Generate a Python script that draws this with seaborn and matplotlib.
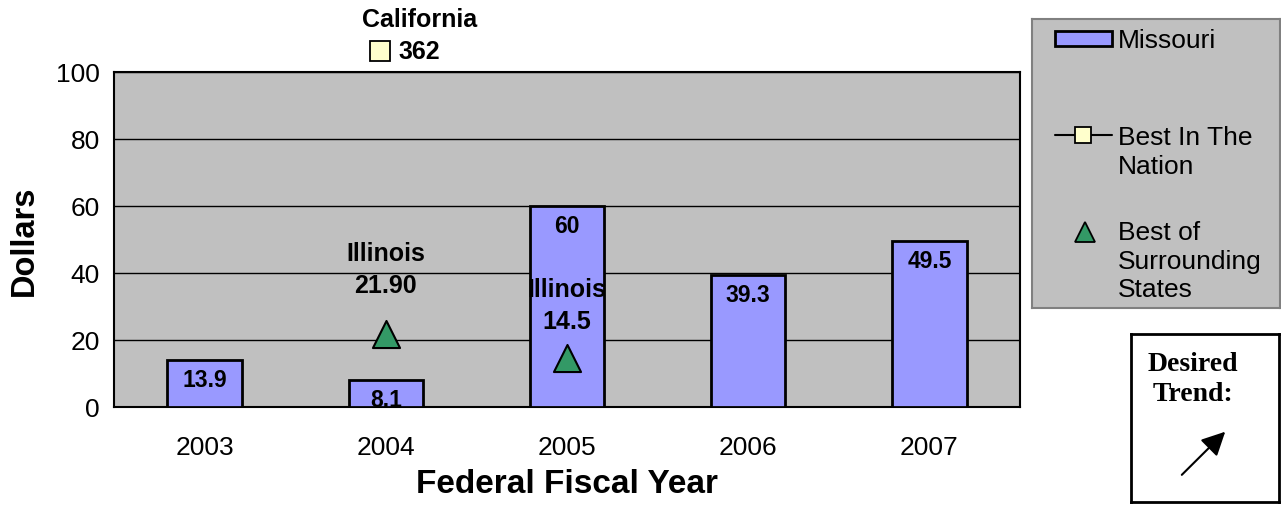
import matplotlib
matplotlib.use("Agg")
import matplotlib.pyplot as plt
import matplotlib.transforms as mtransforms
from matplotlib.patches import Rectangle
import seaborn as sns
import pandas as pd

# Chart data
years = ["2003", "2004", "2005", "2006", "2007"]
missouri = [13.9, 8.1, 60, 39.3, 49.5]
missouri_labels = ["13.9", "8.1", "60", "39.3", "49.5"]

surround_years = ["2004", "2005"]
surround_values = [21.9, 14.5]
surround_labels = ["Illinois\n21.90", "Illinois\n14.5"]

nation_year = "2004"
nation_value = 362
nation_state = "California"

legend_labels = ["Missouri", "Best In The\nNation", "Best of\nSurrounding\nStates"]

sns.set_style("white")
plt.rcParams["font.family"] = ["Liberation Sans", "DejaVu Sans"]
for k in ["text.color", "axes.labelcolor", "xtick.color", "ytick.color"]:
    plt.rcParams[k] = "black"

BAR = "#9999ff"
TRI = "#339966"
SQ = "#ffffcc"
W, H = 1281, 506

fig = plt.figure(figsize=(12.81, 5.06), dpi=100)
ax = fig.add_axes([114 / W, 1 - 408 / H, (1020 - 114) / W, (408 - 73) / H])
ax.set_facecolor("#c0c0c0")

df = pd.DataFrame({"year": years, "value": missouri})
sns.barplot(data=df, x="year", y="value", color=BAR, saturation=1,
            width=0.41, edgecolor="black", linewidth=2, ax=ax, zorder=3)

ax.set_ylim(0, 100)
ax.set_xlim(-0.5, len(years) - 0.5)
ax.set_yticks(range(0, 101, 20))
ax.yaxis.grid(True, color="black", linewidth=1)
ax.set_axisbelow(True)
for s in ax.spines.values():
    s.set_color("black")
    s.set_linewidth(1.5)
ax.tick_params(axis="both", length=0, labelsize=19)
ax.tick_params(axis="x", pad=20)
ax.tick_params(axis="y", pad=10)
ax.set_xlabel("Federal Fiscal Year", fontsize=24, fontweight="bold", labelpad=7)
ax.set_ylabel("Dollars", fontsize=23.5, fontweight="bold", labelpad=12)

# bar value labels inside top of bars
for i, (v, lab) in enumerate(zip(missouri, missouri_labels)):
    ax.annotate(lab, (i, v), xytext=(0, -5.5), textcoords="offset points",
                ha="center", va="top", fontsize=16.5, fontweight="bold", zorder=5)

# best of surrounding states
sx = [years.index(y) for y in surround_years]
sns.scatterplot(x=sx, y=surround_values, marker="^", s=380, color=TRI,
                edgecolor="black", linewidth=1.5, ax=ax, zorder=4, legend=False)
offsets = [26.5, 18]
for x, v, lab, off in zip(sx, surround_values, surround_labels, offsets):
    ax.annotate(lab, (x, v), xytext=(0, off), textcoords="offset points",
                ha="center", va="bottom", fontsize=18, fontweight="bold",
                linespacing=1.42, zorder=5)

# best in the nation (off scale)
trans = mtransforms.blended_transform_factory(ax.transData, ax.transAxes)
nx = years.index(nation_year)
ax.plot([nx], [1.063], marker="s", markersize=14, markerfacecolor=SQ,
        markeredgecolor="black", markeredgewidth=1.3,
        transform=mtransforms.offset_copy(trans, fig, x=-6, units="dots"),
        clip_on=False, linestyle="none")
ax.annotate(nation_state, (nx, 1.158), xycoords=trans, xytext=(24.5, 0),
            textcoords="offset points", ha="center", va="center",
            fontsize=18, fontweight="bold", annotation_clip=False)
ax.annotate(str(nation_value), (nx, 1.063), xycoords=trans, xytext=(24, 0),
            textcoords="offset points", ha="center", va="center",
            fontsize=18, fontweight="bold", annotation_clip=False)

# legend box (drawn by hand to match the evenly spaced layout)
lx0, ly0, lx1, ly1 = 1032, 20, 1280, 309
lg = fig.add_axes([lx0 / W, 1 - ly1 / H, (lx1 - lx0) / W, (ly1 - ly0) / H])
lg.set_xlim(lx0, lx1)
lg.set_ylim(ly1, ly0)
lg.set_xticks([])
lg.set_yticks([])
lg.set_facecolor("#c0c0c0")
for s in lg.spines.values():
    s.set_color("#808080")
    s.set_linewidth(1.5)
lg.add_patch(Rectangle((1055, 32), 57, 15, facecolor=BAR, edgecolor="black",
                       linewidth=2))
lg.plot([1055, 1112], [136, 136], color="black", linewidth=1.5)
lg.plot([1083], [136], marker="s", markersize=12, markerfacecolor=SQ,
        markeredgecolor="black", markeredgewidth=1.3)
lg.plot([1085], [233], marker="^", markersize=14, markerfacecolor=TRI,
        markeredgecolor="black", markeredgewidth=1.3)
for y, lab in zip([39, 136, 231], legend_labels):
    lg.text(1118, y - 10, lab, ha="left", va="top", fontsize=19,
            linespacing=1.25)

# desired trend box
bx = fig.add_axes([1131 / W, 1 - 503 / H, 148 / W, 168 / H])
bx.set_xticks([])
bx.set_yticks([])
bx.set_xlim(0, 1)
bx.set_ylim(0, 1)
for s in bx.spines.values():
    s.set_color("black")
    s.set_linewidth(2)
bx.text(0.42, 0.90, "Desired\nTrend:", ha="center", va="top", fontsize=20,
        fontweight="bold", family="Liberation Serif", linespacing=1.3)
bx.annotate("", xy=(0.65, 0.43), xytext=(0.33, 0.15),
            arrowprops=dict(arrowstyle="-|>", color="black", lw=1.5,
                            mutation_scale=36))

fig.savefig("out.png", dpi=100)
